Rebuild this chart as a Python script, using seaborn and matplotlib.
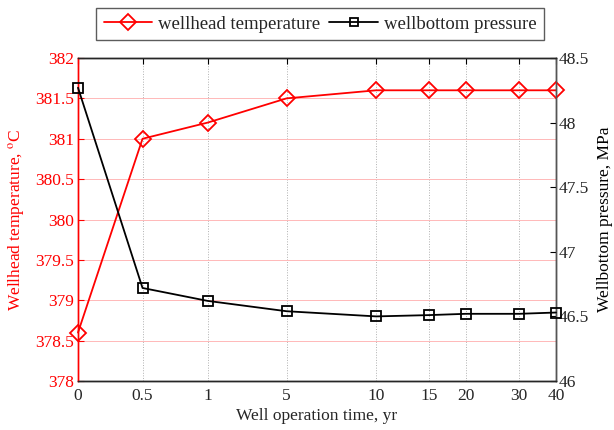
import matplotlib
matplotlib.use("Agg")
import matplotlib.pyplot as plt
import seaborn as sns
import pandas as pd
from matplotlib.lines import Line2D

# Well operation time categories (years) and measured series
time_labels = ["0", "0.5", "1", "5", "10", "15", "20", "30", "40"]
wellhead_temp = [378.6, 381.0, 381.2, 381.5, 381.6, 381.6, 381.6, 381.6, 381.6]
bottom_pressure = [48.27, 46.72, 46.62, 46.54, 46.50, 46.51, 46.52, 46.52, 46.53]

# Horizontal placement of each time category along the axis
x_pos = [0.0, 1.08, 2.17, 3.49, 4.99, 5.87, 6.49, 7.38, 8.0]

sns.set_style("white")
plt.rcParams["font.family"] = ["Liberation Serif", "DejaVu Serif"]
plt.rcParams["mathtext.fontset"] = "stix"

df = pd.DataFrame({"pos": x_pos, "temp": wellhead_temp, "pres": bottom_pressure})

fig = plt.figure(figsize=(6.14, 4.30), dpi=100)
ax = fig.add_axes([78 / 614, 1 - 381 / 430, (556 - 78) / 614, (381 - 58) / 430])
ax2 = ax.twinx()

red = "#ff0000"
fs = 12.5

sns.lineplot(data=df, x="pos", y="temp", ax=ax, color=red, lw=1.3,
             marker="D", markersize=8, markerfacecolor="none",
             markeredgecolor=red, markeredgewidth=1.3, zorder=3, clip_on=False)
sns.lineplot(data=df, x="pos", y="pres", ax=ax2, color="black", lw=1.3,
             marker="s", markersize=7, markerfacecolor="none",
             markeredgecolor="black", markeredgewidth=1.3, zorder=3, clip_on=False)

ax.set_xlim(x_pos[0], x_pos[-1])
ax.set_ylim(378, 382)
ax2.set_ylim(46, 48.5)

ax.set_xticks(x_pos)
ax.set_xticklabels(time_labels, fontsize=fs)
ax.set_yticks([378 + 0.5 * i for i in range(9)])
ax.set_yticklabels(["378", "378.5", "379", "379.5", "380", "380.5", "381", "381.5", "382"],
                   fontsize=fs, color=red)
ax2.set_yticks([46, 46.5, 47, 47.5, 48, 48.5])
ax2.set_yticklabels(["46", "46.5", "47", "47.5", "48", "48.5"], fontsize=fs)

# Grid: pink horizontal lines from the temperature axis, dotted grey verticals
ax.grid(True, axis="y", color="#ffb8b8", lw=0.7, ls="-")
ax.grid(True, axis="x", color="#b0b0b0", lw=0.7, ls=":")
ax.set_axisbelow(True)

ax.tick_params(axis="x", direction="in", length=4, color="black", top=True, pad=5)
ax.tick_params(axis="y", direction="in", length=4, colors=red, right=False, pad=3)
ax2.tick_params(axis="y", direction="in", length=4, color="black", pad=2)

for s in ["top", "bottom"]:
    ax.spines[s].set_color("black")
ax.spines["left"].set_color(red)
ax2.spines["left"].set_color(red)
ax2.spines["right"].set_color("#555555")
for a in (ax, ax2):
    for s in a.spines.values():
        s.set_linewidth(1.0)

ax.set_xlabel("Well operation time, yr", fontsize=fs, labelpad=3)
ax.set_ylabel("Wellhead temperature, $^{\\rm o}$C", fontsize=fs, color=red, labelpad=6)
ax2.set_ylabel("Wellbottom pressure, MPa", fontsize=fs, color="black", labelpad=6)

handles = [
    Line2D([], [], color=red, lw=1.3, marker="D", markersize=8,
           markerfacecolor="none", markeredgewidth=1.3),
    Line2D([], [], color="black", lw=1.3, marker="s", markersize=6,
           markerfacecolor="none", markeredgewidth=1.3),
]
leg = fig.legend(handles, ["wellhead temperature", "wellbottom pressure"],
                 loc="center", bbox_to_anchor=(320 / 614, 1 - 24 / 430), ncol=2,
                 fontsize=13.5, frameon=True, fancybox=False, edgecolor="#333333",
                 handlelength=2.6, handletextpad=0.3, columnspacing=0.5,
                 borderpad=0.4)
leg.get_frame().set_linewidth(1.0)

fig.savefig("out.png", dpi=100)
